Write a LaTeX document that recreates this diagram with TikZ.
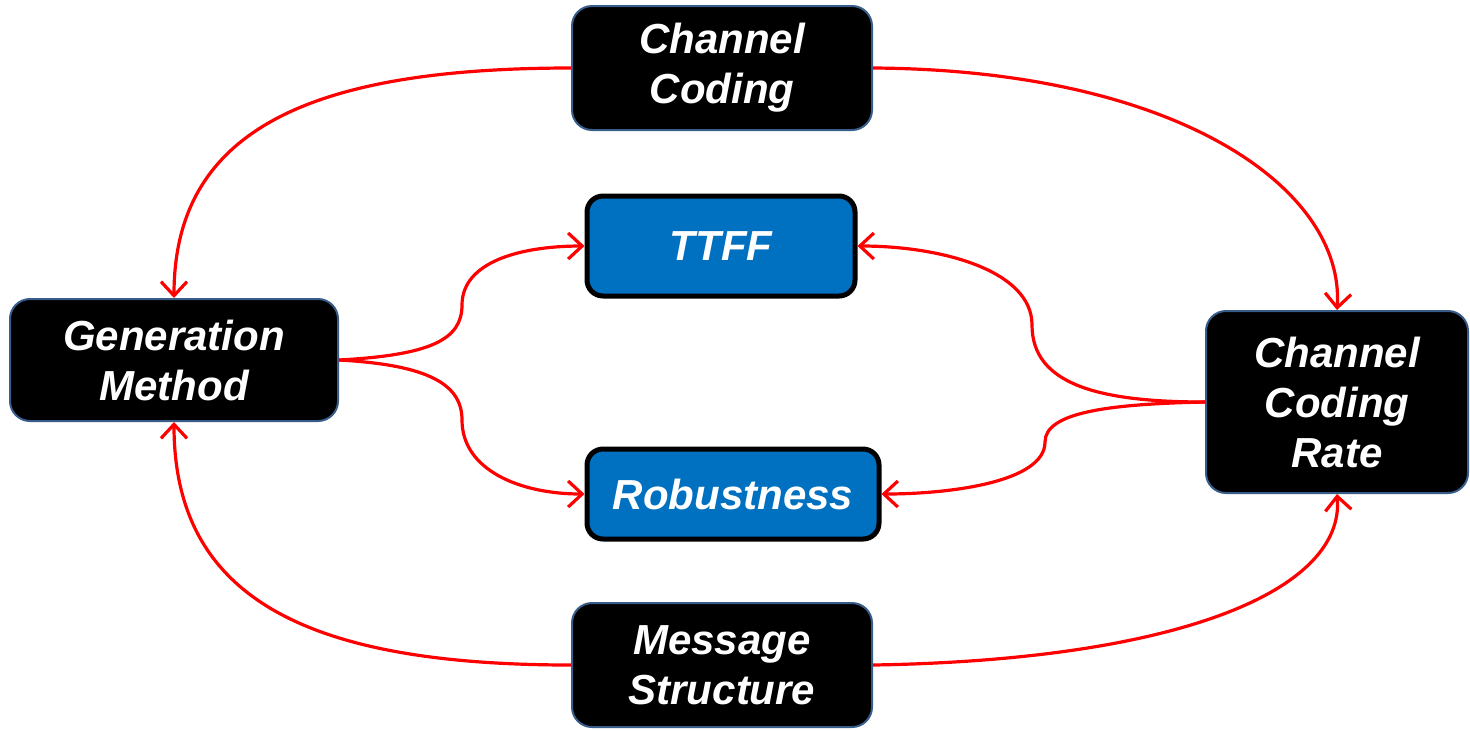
\documentclass[tikz,border=0pt]{standalone}
\usepackage{fontspec}
\setmainfont{Liberation Sans}
\usetikzlibrary{arrows.meta}
\definecolor{linkred}{RGB}{255,0,0}
\definecolor{boxblue}{RGB}{0,112,192}
\definecolor{edgeblue}{RGB}{56,93,138}

\begin{document}
\begin{tikzpicture}[x=0.5pt,y=-0.5pt,
  factor/.style={fill=black, draw=edgeblue, line width=1pt, rounded corners=10pt, inner sep=0pt, align=center, text=white, font=\fontsize{21}{25}\selectfont\bfseries\itshape},
  metric/.style={fill=boxblue, draw=black, line width=2.5pt, rounded corners=8pt, inner sep=0pt, align=center, text=white, font=\fontsize{21}{25}\selectfont\bfseries\itshape},
  link/.style={draw=linkred, line width=1.6pt, -{Straight Barb[length=7pt,width=13pt]}}]
\useasboundingbox (0,0) rectangle (1470,730);

\node (coding) [factor, minimum width=150pt, minimum height=62pt] at (722,68) {Channel\\Coding};
\node (gen) [factor, minimum width=164pt, minimum height=61pt] at (174,360) {Generation\\Method};
\node (rate) [factor, minimum width=131pt, minimum height=91pt] at (1337,402) {Channel\\Coding\\Rate};
\node (msg) [factor, minimum width=150pt, minimum height=62pt] at (722,665) {Message\\Structure};
\node (ttff) [metric, minimum width=134pt, minimum height=50pt] at (721,246) {TTFF};
\node (robust) [metric, minimum width=146pt, minimum height=45pt] at (733,494) {Robustness};

% outer ring
\draw[link] (coding.west) .. controls (310,68) and (174,130) .. (gen.north);
\draw[link] (coding.east) .. controls (1180,70) and (1345,190) .. (rate.north);
\draw[link] (msg.west) .. controls (310,665) and (174,600) .. (gen.south);
\draw[link] (msg.east) .. controls (1180,660) and (1345,590) .. (rate.south);

% inner links
\draw[link] (gen.east) .. controls (430,355) and (462,340) .. (462,305) .. controls (462,262) and (520,246) .. (ttff.west);
\draw[link] (gen.east) .. controls (430,365) and (462,385) .. (462,420) .. controls (462,470) and (520,494) .. (robust.west);
\draw[link] (rate.west) .. controls (1100,402) and (1032,385) .. (1032,325) .. controls (1032,270) and (940,246) .. (ttff.east);
\draw[link] (rate.west) .. controls (1110,404) and (1045,412) .. (1045,442) .. controls (1045,482) and (950,494) .. (robust.east);
\end{tikzpicture}
\end{document}
